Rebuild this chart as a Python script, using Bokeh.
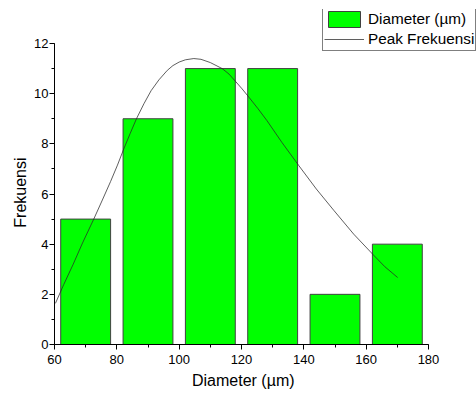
from bokeh.plotting import figure
from bokeh.models import Legend, LegendItem, SingleIntervalTicker, Range1d
from bokeh.embed import file_html
from bokeh.resources import INLINE

# Histogram bins (µm) and counts
bin_left = [60, 80, 100, 120, 140, 160]
bin_right = [80, 100, 120, 140, 160, 180]
counts = [5, 9, 11, 11, 2, 4]

# "Peak Frekuensi" curve
curve_x = [60.3, 63.0, 66.0, 69.0, 72.6, 75.5, 78.0, 80.2, 82.2, 84.3, 86.3, 88.7,
           91.0, 93.5, 96.2, 98.0, 100.0, 102.0, 104.7, 107.0, 110.0, 113.8, 116.0,
           118.0, 120.2, 122.5, 125.3, 128.2, 133.0, 138.4, 144.0, 149.6, 156.0,
           162.4, 166.0, 170.1]
curve_y = [1.64, 2.4, 3.2, 4.05, 5.0, 5.8, 6.5, 7.15, 7.79, 8.42, 9.0, 9.6,
           10.12, 10.55, 10.93, 11.12, 11.26, 11.35, 11.4, 11.37, 11.24, 11.0, 10.78,
           10.5, 10.19, 9.84, 9.4, 8.92, 8.05, 7.13, 6.2, 5.35, 4.4,
           3.56, 3.1, 2.67]

x_label = "Diameter (µm)"
y_label = "Frekuensi"
series_labels = ["Diameter (µm)", "Peak Frekuensi"]

x_axis_span = (60, 180)
y_axis_span = (0, 12)

centers = [(a + b) / 2 for a, b in zip(bin_left, bin_right)]
widths = [(b - a) * 0.8 for a, b in zip(bin_left, bin_right)]

FONT = "Liberation Sans"
W, H = 476, 397
LEFT, BOTTOM, TOP, RIGHT = 54, 53, 9, 0          # borders of the drawing frame
AX_RIGHT_PX, AX_TOP_PX = 428, 43                  # where the axes end on screen

frame_w = W - LEFT - RIGHT
frame_h = H - BOTTOM - TOP
x_end = x_axis_span[0] + frame_w * (x_axis_span[1] - x_axis_span[0]) / (AX_RIGHT_PX - LEFT)
y_end = y_axis_span[0] + frame_h * (y_axis_span[1] - y_axis_span[0]) / ((H - BOTTOM) - AX_TOP_PX)

p = figure(width=W, height=H, output_backend="svg", toolbar_location=None,
           x_range=Range1d(x_axis_span[0], x_end), y_range=Range1d(y_axis_span[0], y_end),
           min_border_left=LEFT, min_border_right=RIGHT, min_border_top=TOP,
           min_border_bottom=BOTTOM)
p.outline_line_color = None
p.grid.visible = False
p.background_fill_color = "white"
p.border_fill_color = "white"

bars = p.vbar(x=centers, top=counts, bottom=0, width=widths,
              fill_color="#00ff00", line_color="#404040", line_width=1)
line = p.line(curve_x, curve_y, line_color="#2a2a2a", line_width=0.75)

p.xaxis.ticker = SingleIntervalTicker(interval=20, num_minor_ticks=2)
p.yaxis.ticker = SingleIntervalTicker(interval=2, num_minor_ticks=2)
p.xaxis.bounds = x_axis_span
p.yaxis.bounds = y_axis_span

for ax in (p.xaxis[0], p.yaxis[0]):
    ax.axis_line_color = "black"
    ax.major_tick_line_color = "black"
    ax.minor_tick_line_color = "black"
    ax.major_tick_out = 5
    ax.major_tick_in = 0
    ax.minor_tick_out = 3
    ax.minor_tick_in = 0
    ax.major_label_text_font = FONT
    ax.major_label_text_font_size = "13px"
    ax.major_label_text_color = "black"
    ax.axis_label_text_font = FONT
    ax.axis_label_text_font_size = "16px"
    ax.axis_label_text_font_style = "normal"
    ax.axis_label_text_color = "black"

# axis titles are centred on the (wider) frame: pad with no-break spaces so they
# sit centred under / beside the drawn axes
NBSP = "\u00a0"
p.xaxis.axis_label = x_label + NBSP * 10
p.yaxis.axis_label = y_label + NBSP * 7
p.xaxis.major_label_standoff = 5
p.xaxis.axis_label_standoff = 5
p.yaxis.major_label_standoff = 1
p.yaxis.axis_label_standoff = 2

legend = Legend(items=[LegendItem(label=series_labels[0], renderers=[bars]),
                       LegendItem(label=series_labels[1], renderers=[line])],
                location=(268, 293))
legend.padding = 1
legend.spacing = 0
legend.margin = 0
legend.glyph_width = 40
legend.glyph_height = 20
legend.label_height = 20
legend.label_standoff = 4
legend.label_text_font = FONT
legend.label_text_font_size = "15.3px"
legend.label_text_color = "black"
legend.border_line_color = "black"
legend.border_line_width = 1
legend.background_fill_color = "white"
legend.background_fill_alpha = 1
p.add_layout(legend)

open("out.html", "w").write(file_html(p, INLINE))
